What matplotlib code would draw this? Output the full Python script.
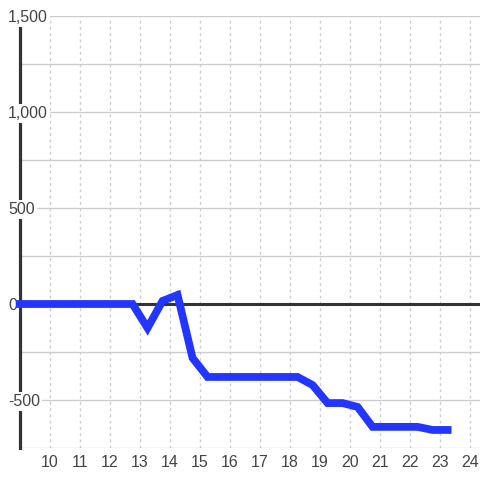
import matplotlib.pyplot as plt
from matplotlib.ticker import MultipleLocator
import matplotlib.transforms as mtransforms

plt.rcParams['font.family'] = ['Liberation Sans', 'DejaVu Sans']

x_vals = [9.0, 9.25, 9.75, 10.25, 10.75, 11.25, 11.75, 12.25, 12.75,
          13.25, 13.75, 14.25, 14.75, 15.25, 15.75, 16.25, 16.75, 17.25,
          17.75, 18.25, 18.75, 19.25, 19.75, 20.25, 20.75, 21.25, 21.75,
          22.25, 22.75, 23.25]
y_vals = [0, 0, 0, 0, 0, 0, 0, 0, 0,
          -125, 16, 47, -281, -380, -380, -380, -380, -380,
          -380, -380, -422, -516, -516, -536, -640, -640, -640,
          -640, -656, -656]
y_ticks = [-500, 0, 500, 1000, 1500]
x_ticks = list(range(10, 25))


def main():
    fig = plt.figure(figsize=(4.8, 4.8), dpi=100)
    ax = fig.add_axes([20 / 480, 32 / 480, 460 / 480, 432 / 480])

    ax.set_xlim(9, 24.33)
    ax.set_ylim(-750, 1500)

    # grid
    ax.yaxis.set_major_locator(MultipleLocator(250))
    ax.set_xticks(x_ticks)
    ax.grid(axis='y', color='#cccccc', lw=1, zorder=0)
    ax.grid(axis='x', color='#cccccc', lw=1, ls=(0, (2, 2.5)), zorder=0)

    for s in ['top', 'right', 'bottom']:
        ax.spines[s].set_visible(False)
    ax.spines['left'].set_color('#333333')
    ax.spines['left'].set_linewidth(2.3)
    ax.spines['left'].set_zorder(3)

    ax.axhline(0, color='#333333', lw=2.2, zorder=3)

    ax.tick_params(axis='both', length=0)
    ax.tick_params(axis='x', labelsize=11.5, labelcolor='#444444', pad=5)
    ax.set_yticklabels([])

    trans = mtransforms.blended_transform_factory(ax.transAxes, ax.transData)
    for v in y_ticks:
        ax.text(-0.026, v, f"{v:,}", transform=trans, ha='left',
                va='center_baseline', fontsize=11.5, color='#444444',
                zorder=4, bbox=dict(facecolor='white', edgecolor='none', pad=1.5),
                clip_on=False)

    ax.plot(x_vals, y_vals, color='#2236ff', lw=5.6, zorder=5,
            solid_capstyle='projecting', solid_joinstyle='miter', clip_on=False)

    fig.savefig('out.png', dpi=100)


if __name__ == "__main__":
    main()
